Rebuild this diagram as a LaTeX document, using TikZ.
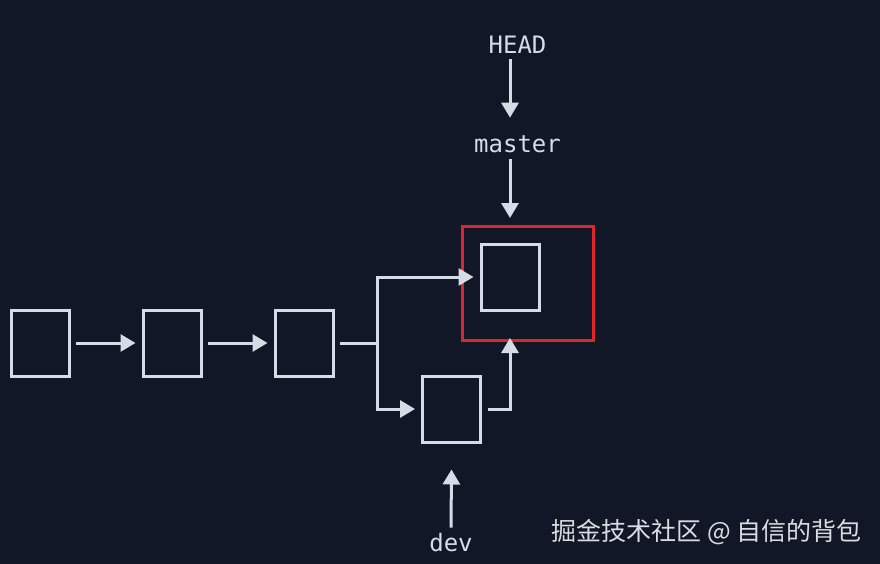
\documentclass[tikz,border=0pt]{standalone}
\usepackage{fontspec}
\setmonofont{DejaVu Sans Mono}
\newfontfamily\cjk{Noto Sans CJK SC}
\usetikzlibrary{arrows.meta,calc}
\definecolor{bg}{RGB}{17,23,38}
\definecolor{ln}{RGB}{214,220,230}
\definecolor{rd}{RGB}{220,38,45}
\definecolor{wmc}{RGB}{218,220,226}
\begin{document}
\begin{tikzpicture}[x=1pt,y=-1pt,
  commit/.style={draw=ln, line width=3pt, minimum width=58pt, minimum height=66pt, inner sep=0pt},
  arr/.style={draw=ln, line width=3pt, -{Triangle[width=17pt,length=15pt]}},
  plain/.style={draw=ln, line width=3pt},
  lbl/.style={text=ln, font=\ttfamily\fontsize{24}{28}\selectfont, inner sep=0pt, anchor=base}]
\fill[bg] (0,0) rectangle (880,564);
\useasboundingbox (0,0) rectangle (880,564);

\node[commit] (c1) at (40,343) {};
\node[commit] (c2) at (172,343) {};
\node[commit] (c3) at (304,343) {};
\node[commit] (m) at (510,277) {};
\node[commit] (d) at (451.5,409) {};
\node[draw=rd, line width=3pt, minimum width=130.5pt, minimum height=114pt, inner sep=0pt] (sel) at (528.2,283.5) {};

\node[lbl] (head) at (517.5,53.3) {HEAD};
\node[lbl] (master) at (517.5,152.7) {master};
\node[lbl] (dev) at (451,551) {dev};

\draw[arr] ([xshift=5.5pt]c1.east) -- ([xshift=-6pt]c2.west);
\draw[arr] ([xshift=5.5pt]c2.east) -- ([xshift=-6pt]c3.west);
\coordinate (fk) at (377,343);
\draw[plain] ([xshift=5.5pt]c3.east) -- (fk);
\draw[arr] ($(fk)+(0,1.5)$) |- ([xshift=-6pt]m.west);
\draw[arr] ($(fk)+(0,-1.5)$) |- ([xshift=-6pt]d.west);
\draw[arr] ([xshift=6pt]d.east) -| ($(m.center |- sel.south)+(0,-4)$);

\draw[arr] ($(head.south -| m.center)+(0,6)$) -- ($(master.north -| m.center)+(0,-18)$);
\draw[arr] ($(master.south -| m.center)+(0,5.5)$) -- ($(m.center |- sel.north)+(0,-7)$);
\draw[arr] ($(dev.north)+(0,-5)$) -- ($(d.south)+(0,26)$);

\node[text=wmc, font=\cjk\fontsize{25}{28}\selectfont, anchor=base east, inner sep=0pt] (wm) at (862,540) {掘金技术社区 @ 自信的背包};
\end{tikzpicture}
\end{document}
